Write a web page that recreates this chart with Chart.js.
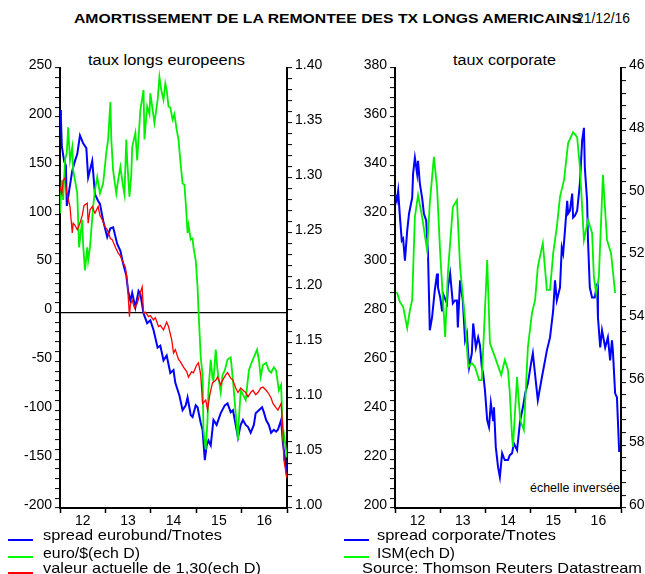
<!DOCTYPE html>
<html>
<head>
<meta charset="utf-8">
<script src="https://cdn.jsdelivr.net/npm/chart.js@4.4.1/dist/chart.umd.min.js"></script>
<style>
body { margin: 0; background: #fff; width: 645px; height: 574px; overflow: hidden; position: relative;
       font-family: 'Liberation Sans', Arial, sans-serif; color: #000; }
canvas { position: absolute; top: 0; }
#cLeft { left: 0; }
#cRight { left: 330px; }
.t { position: absolute; white-space: nowrap; line-height: 1; transform-origin: 0 50%; }
.key { position: absolute; height: 2px; width: 25px; }
</style>
</head>
<body>
<div class="t" data-w="508" style="left:74px;top:12px;font-weight:bold;font-size:13px">AMORTISSEMENT DE LA REMONTEE DES TX LONGS AMERICAINS</div>
<div class="t" data-w="54" style="left:576px;top:11px;font-size:14px">21/12/16</div>
<div class="t" data-w="157" style="left:88px;top:53px;font-size:14px">taux longs europeens</div>
<div class="t" data-w="103" style="left:453px;top:53px;font-size:14px">taux corporate</div>
<div class="t" data-w="90" style="left:530px;top:482px;font-size:12px">échelle inversée</div>

<canvas id="cLeft" width="330" height="530"></canvas>
<canvas id="cRight" width="315" height="530"></canvas>

<div class="key" style="left:8px;top:539px;background:#0000ff"></div>
<div class="t" data-w="179" style="left:43px;top:527px;font-size:15px">spread eurobund/Tnotes</div>
<div class="key" style="left:8px;top:556px;background:#00ff00"></div>
<div class="t" data-w="97" style="left:43px;top:545px;font-size:15px">euro/$(ech D)</div>
<div class="key" style="left:8px;top:572px;background:#ff0000"></div>
<div class="t" data-w="218" style="left:43px;top:560px;font-size:15px">valeur actuelle de 1,30(ech D)</div>

<div class="key" style="left:344px;top:539px;background:#0000ff"></div>
<div class="t" data-w="179" style="left:377px;top:527px;font-size:15px">spread corporate/Tnotes</div>
<div class="key" style="left:344px;top:556px;background:#00ff00"></div>
<div class="t" data-w="78" style="left:377px;top:545px;font-size:15px">ISM(ech D)</div>
<div class="t" data-w="280" style="left:362px;top:560px;font-size:15px">Source: Thomson Reuters Datastream</div>

<script>
// années sur l'axe des x (étiquettes centrées sur chaque année)
const yearLabels = ['12', '13', '14', '15', '16'];

// ---- panneau gauche : taux longs europeens ----
const bundDates = [2012.00,2012.02,2012.04,2012.09,2012.13,2012.15,2012.20,2012.27,2012.33,2012.38,2012.44,2012.51,2012.58,2012.62,2012.71,2012.77,2012.84,2012.88,2012.95,
  2013.04,2013.11,2013.17,2013.26,2013.33,2013.39,2013.46,2013.50,2013.55,2013.59,2013.66,2013.73,2013.77,2013.84,2013.92,2013.99,
  2014.06,2014.15,2014.21,2014.28,2014.35,2014.43,2014.50,2014.54,2014.63,2014.70,2014.77,2014.81,2014.88,2014.92,2014.99,
  2015.03,2015.10,2015.14,2015.19,2015.23,2015.27,2015.32,2015.38,2015.45,2015.54,2015.63,2015.69,2015.76,2015.81,2015.87,2015.92,2015.98,
  2016.03,2016.09,2016.14,2016.20,2016.27,2016.31,2016.38,2016.45,2016.49,2016.54,2016.60,2016.65,2016.71,2016.76,2016.80,2016.87,2016.91,2016.96,2017.00];
const bundSpread = [207,199,170,155,150,109,124,145,155,162,181,173,168,138,155,121,114,111,94,
  77,86,87,70,63,50,38,22,12,20,5,22,19,-1,-11,-8,
  -18,-36,-34,-49,-44,-62,-59,-72,-85,-100,-95,-87,-105,-107,-95,
  -97,-113,-120,-151,-136,-131,-136,-110,-115,-103,-95,-93,-102,-100,-115,-128,-115,
  -110,-115,-117,-123,-115,-103,-100,-97,-102,-110,-115,-123,-120,-122,-120,-110,-134,-151,-169];

const euroDates = [2012.00,2012.04,2012.07,2012.11,2012.15,2012.18,2012.22,2012.27,2012.29,2012.33,
  2012.38,2012.42,2012.49,2012.51,2012.55,2012.60,2012.62,2012.66,2012.73,2012.77,
  2012.82,2012.88,2012.95,2013.02,2013.06,2013.11,2013.13,2013.17,2013.24,2013.28,
  2013.33,2013.39,2013.42,2013.46,2013.48,2013.53,2013.57,2013.59,2013.66,2013.70,
  2013.77,2013.84,2013.86,2013.92,2013.97,2013.99,2014.04,2014.08,2014.15,2014.19,
  2014.23,2014.28,2014.32,2014.35,2014.39,2014.43,2014.48,2014.52,2014.57,2014.61,
  2014.65,2014.70,2014.74,2014.77,2014.81,2014.83,2014.88,2014.92,2014.94,2014.99,
  2015.03,2015.05,2015.10,2015.14,2015.16,2015.21,2015.25,2015.27,2015.32,2015.36,
  2015.38,2015.43,2015.47,2015.54,2015.58,2015.63,2015.69,2015.76,2015.81,2015.87,
  2015.92,2015.94,2015.98,2016.03,2016.09,2016.16,2016.20,2016.27,2016.34,2016.38,
  2016.42,2016.47,2016.54,2016.60,2016.65,2016.71,2016.76,2016.82,2016.87,2016.91,
  2016.93,2017.00];
const euroUsd = [1.268,1.298,1.280,1.316,1.323,1.346,1.316,1.328,1.307,1.298,
  1.286,1.237,1.262,1.239,1.216,1.237,1.225,1.237,1.274,1.289,
  1.301,1.286,1.295,1.323,1.335,1.369,1.335,1.307,1.286,1.298,
  1.310,1.292,1.285,1.335,1.316,1.283,1.303,1.328,1.341,1.316,
  1.362,1.380,1.335,1.365,1.358,1.377,1.362,1.350,1.371,1.392,
  1.380,1.371,1.386,1.380,1.365,1.364,1.353,1.358,1.344,1.335,
  1.316,1.295,1.294,1.277,1.250,1.257,1.244,1.245,1.237,1.225,
  1.201,1.180,1.137,1.121,1.071,1.053,1.080,1.107,1.135,1.118,
  1.116,1.144,1.125,1.105,1.121,1.125,1.135,1.137,1.116,1.086,
  1.062,1.080,1.107,1.103,1.098,1.125,1.130,1.137,1.144,1.135,
  1.119,1.130,1.132,1.125,1.123,1.128,1.125,1.107,1.112,1.065,
  1.068,1.046];

const valDates = [2012.00,2012.04,2012.07,2012.11,2012.15,2012.22,2012.27,2012.29,2012.33,2012.38,
  2012.44,2012.49,2012.53,2012.60,2012.62,2012.66,2012.71,2012.77,2012.84,2012.88,
  2012.93,2013.00,2013.04,2013.11,2013.15,2013.22,2013.28,2013.33,2013.37,2013.44,
  2013.48,2013.53,2013.55,2013.59,2013.64,2013.70,2013.77,2013.81,2013.84,2013.88,
  2013.95,2013.99,2014.06,2014.10,2014.17,2014.21,2014.28,2014.35,2014.39,2014.46,
  2014.50,2014.54,2014.61,2014.65,2014.72,2014.79,2014.83,2014.90,2014.94,2015.01,
  2015.05,2015.10,2015.14,2015.21,2015.25,2015.30,2015.36,2015.43,2015.47,2015.54,
  2015.58,2015.65,2015.69,2015.76,2015.81,2015.87,2015.92,2015.98,2016.03,2016.09,
  2016.14,2016.20,2016.25,2016.31,2016.36,2016.42,2016.47,2016.54,2016.58,2016.65,
  2016.69,2016.76,2016.80,2016.87,2016.91,2016.93,2017.00];
const valeur130 = [1.292,1.286,1.298,1.300,1.286,1.274,1.250,1.259,1.257,1.253,
  1.259,1.266,1.275,1.277,1.259,1.271,1.274,1.268,1.274,1.266,
  1.262,1.255,1.253,1.245,1.244,1.237,1.232,1.229,1.225,1.219,
  1.207,1.174,1.185,1.189,1.182,1.186,1.196,1.201,1.177,1.178,
  1.174,1.175,1.171,1.173,1.165,1.166,1.162,1.169,1.165,1.153,
  1.141,1.144,1.135,1.133,1.128,1.124,1.119,1.124,1.123,1.130,
  1.132,1.121,1.095,1.098,1.089,1.103,1.114,1.116,1.119,1.112,
  1.116,1.121,1.123,1.118,1.116,1.109,1.105,1.109,1.107,1.105,
  1.101,1.105,1.107,1.103,1.105,1.109,1.110,1.107,1.105,1.100,
  1.095,1.091,1.089,1.095,1.071,1.044,1.027];

// ---- panneau droit : taux corporate ----
const corpDates = [2012.00,2012.04,2012.07,2012.11,2012.15,2012.18,2012.22,2012.27,2012.31,2012.38,
  2012.40,2012.44,2012.49,2012.51,2012.55,2012.60,2012.64,2012.69,2012.73,2012.77,
  2012.82,2012.88,2012.93,2012.95,2013.00,2013.04,2013.06,2013.15,2013.17,2013.22,
  2013.28,2013.33,2013.37,2013.39,2013.44,2013.50,2013.55,2013.59,2013.64,2013.70,
  2013.73,2013.79,2013.84,2013.88,2013.92,2013.95,2013.99,2014.04,2014.08,2014.12,
  2014.17,2014.19,2014.23,2014.28,2014.32,2014.37,2014.41,2014.43,2014.50,2014.54,
  2014.59,2014.63,2014.70,2014.77,2014.83,2014.88,2014.94,2015.01,2015.05,2015.12,
  2015.16,2015.25,2015.32,2015.36,2015.43,2015.50,2015.54,2015.58,2015.65,2015.69,
  2015.72,2015.76,2015.81,2015.83,2015.87,2015.92,2015.94,2015.98,2016.03,2016.09,
  2016.14,2016.18,2016.20,2016.25,2016.27,2016.31,2016.36,2016.42,2016.47,2016.49,
  2016.54,2016.58,2016.65,2016.71,2016.76,2016.80,2016.82,2016.87,2016.91,2016.96];
const corpSpread = [328.6,325.7,329.8,318.8,309.4,310.2,301.2,313.5,320.4,326.9,
  336.7,343.3,336.7,342.0,332.7,326.9,320.4,317.6,304.1,272.7,
  278.0,289.0,295.9,290.2,286.1,280.8,287.8,283.7,290.2,295.9,
  283.7,284.9,284.9,273.9,293.1,284.9,268.6,271.4,257.6,263.3,
  275.5,265.7,269.8,266.5,257.6,255.1,248.2,235.9,233.1,242.9,
  235.9,241.2,224.9,216.7,212.7,222.4,220.4,219.6,219.6,221.6,
  222.4,226.5,223.7,235.9,241.2,246.9,251.0,259.2,263.3,251.0,
  244.1,253.5,260.4,264.5,269.8,280.8,293.1,284.9,290.2,306.5,
  304.1,313.5,325.7,320.4,321.6,328.6,318.8,319.6,321.6,332.7,
  350.2,355.5,339.2,325.7,309.4,290.2,286.1,286.1,291.8,278.0,
  265.7,272.7,265.7,269.8,260.4,268.6,264.5,246.9,245.3,222.9];

const ismDates = [2012.04,2012.11,2012.18,2012.27,2012.33,2012.38,2012.44,2012.51,2012.60,2012.71,
  2012.77,2012.86,2012.93,2013.00,2013.11,2013.17,2013.28,2013.37,2013.44,2013.55,
  2013.62,2013.70,2013.77,2013.86,2013.92,2014.04,2014.10,2014.21,2014.35,2014.43,
  2014.50,2014.54,2014.59,2014.61,2014.70,2014.77,2014.85,2014.94,2015.03,2015.10,
  2015.16,2015.27,2015.36,2015.43,2015.50,2015.58,2015.65,2015.74,2015.83,2015.94,
  2016.03,2016.09,2016.14,2016.18,2016.27,2016.36,2016.40,2016.45,2016.51,2016.60,
  2016.69,2016.78,2016.87];
const ism = [53.13,53.45,53.60,54.27,53.70,53.38,50.74,50.04,50.74,51.79,
  50.30,48.83,49.79,51.89,54.56,52.52,50.42,50.20,52.33,54.02,
  55.51,55.39,55.51,55.93,55.93,52.11,54.75,55.19,55.77,55.29,
  55.61,56.34,57.74,58.06,55.83,57.20,57.52,54.88,53.80,53.38,
  52.33,51.57,53.06,53.06,51.89,51.06,50.10,49.56,48.39,48.04,
  48.20,49.15,50.42,51.47,50.84,51.25,52.65,53.16,52.65,49.40,
  51.47,51.89,53.16];

// graduations des axes (étiquettes)
const leftMajor = [-200, -150, -100, -50, 0, 50, 100, 150, 200, 250];
const euroMajor = [1.00, 1.05, 1.10, 1.15, 1.20, 1.25, 1.30, 1.35, 1.40];
const corpMajor = [200, 220, 240, 260, 280, 300, 320, 340, 360, 380];
const ismMajor = [46, 48, 50, 52, 54, 56, 58, 60];

Chart.defaults.font.family = "'Liberation Sans', Arial, sans-serif";
Chart.defaults.color = '#000';

const pts = (xs, ys) => ys.map((y, i) => ({ x: xs[i], y }));

function serie(xs, ys, color, width, axis, order) {
    return {
        data: pts(xs, ys),
        borderColor: color,
        borderWidth: width,
        pointRadius: 0,
        tension: 0,
        fill: false,
        yAxisID: axis,
        order: order
    };
}

// axe vertical : petites graduations + étiquettes sur les valeurs majeures
function axeY(position, majors, minorStep, width, fmt, opts = {}) {
    const min = majors[0];
    const max = majors[majors.length - 1];
    return {
        type: 'linear',
        position: position,
        min: min,
        max: max,
        reverse: !!opts.reverse,
        afterBuildTicks: (axis) => {
            const n = Math.round((max - min) / minorStep);
            const t = [];
            for (let i = 0; i <= n; i++) t.push({ value: +(min + i * minorStep).toFixed(6) });
            axis.ticks = t;
        },
        afterFit: (s) => { s.width = width; },
        ticks: {
            autoSkip: false,
            padding: 3,
            labelOffset: -3,
            font: { size: 14 },
            callback: (v) => majors.some(m => Math.abs(m - v) < 1e-6) ? fmt(v) : ''
        },
        grid: {
            drawOnChartArea: !!opts.zeroLine,
            color: (ctx) => (opts.zeroLine && ctx.tick && ctx.tick.value === 0) ? '#000' : 'rgba(0,0,0,0)',
            lineWidth: 1.2,
            tickColor: '#000',
            tickLength: 5,
            tickWidth: 1
        },
        border: { display: true, color: '#000', width: 2 }
    };
}

function axeX() {
    const vals = [];
    yearLabels.forEach((_, i) => { vals.push(2012 + i, 2012.5 + i); });
    vals.push(2012 + yearLabels.length);
    return {
        type: 'linear',
        min: 2012,
        max: 2012 + yearLabels.length,
        afterBuildTicks: (axis) => { axis.ticks = vals.map(v => ({ value: v })); },
        afterFit: (s) => { s.height = 22; },
        ticks: {
            autoSkip: false,
            maxRotation: 0,
            minRotation: 0,
            padding: 0,
            font: { size: 14 },
            callback: (v) => {
                const i = v - 2012.5;
                return Number.isInteger(i) ? yearLabels[i] : '';
            }
        },
        grid: {
            drawOnChartArea: false,
            tickLength: 5,
            tickWidth: 1.5,
            tickColor: (ctx) => (ctx.tick && Number.isInteger(ctx.tick.value)) ? '#000' : 'rgba(0,0,0,0)'
        },
        border: { color: '#000', width: 2 }
    };
}

const communs = {
    responsive: false,
    animation: false,
    events: [],
    layout: { padding: { top: 68, left: 0, right: 0, bottom: 0 } },
    plugins: { legend: { display: false }, tooltip: { enabled: false } }
};

new Chart(document.getElementById('cLeft'), {
    type: 'line',
    data: {
        datasets: [
            serie(bundDates, bundSpread, '#0000ff', 2, 'y', 3),
            serie(euroDates, euroUsd, '#00f000', 1.8, 'y1', 2),
            serie(valDates, valeur130, '#ff0000', 1.3, 'y1', 1)
        ]
    },
    options: {
        ...communs,
        scales: {
            x: axeX(),
            y: axeY('left', leftMajor, 10, 60, v => String(v), { zeroLine: true }),
            y1: axeY('right', euroMajor, 0.01, 43, v => v.toFixed(2))
        }
    }
});

new Chart(document.getElementById('cRight'), {
    type: 'line',
    data: {
        datasets: [
            serie(corpDates, corpSpread, '#0000ff', 2, 'y', 2),
            serie(ismDates, ism, '#00f000', 1.8, 'y1', 1)
        ]
    },
    options: {
        ...communs,
        scales: {
            x: axeX(),
            y: axeY('left', corpMajor, 4, 65, v => String(v)),
            y1: axeY('right', ismMajor, 0.4, 24, v => String(v), { reverse: true })
        }
    }
});

// ajuste la largeur des textes HTML sur celle de l'original
document.querySelectorAll('[data-w]').forEach((el) => {
    const w = el.getBoundingClientRect().width;
    if (w > 0) el.style.transform = `scaleX(${el.dataset.w / w})`;
});
</script>
</body>
</html>
